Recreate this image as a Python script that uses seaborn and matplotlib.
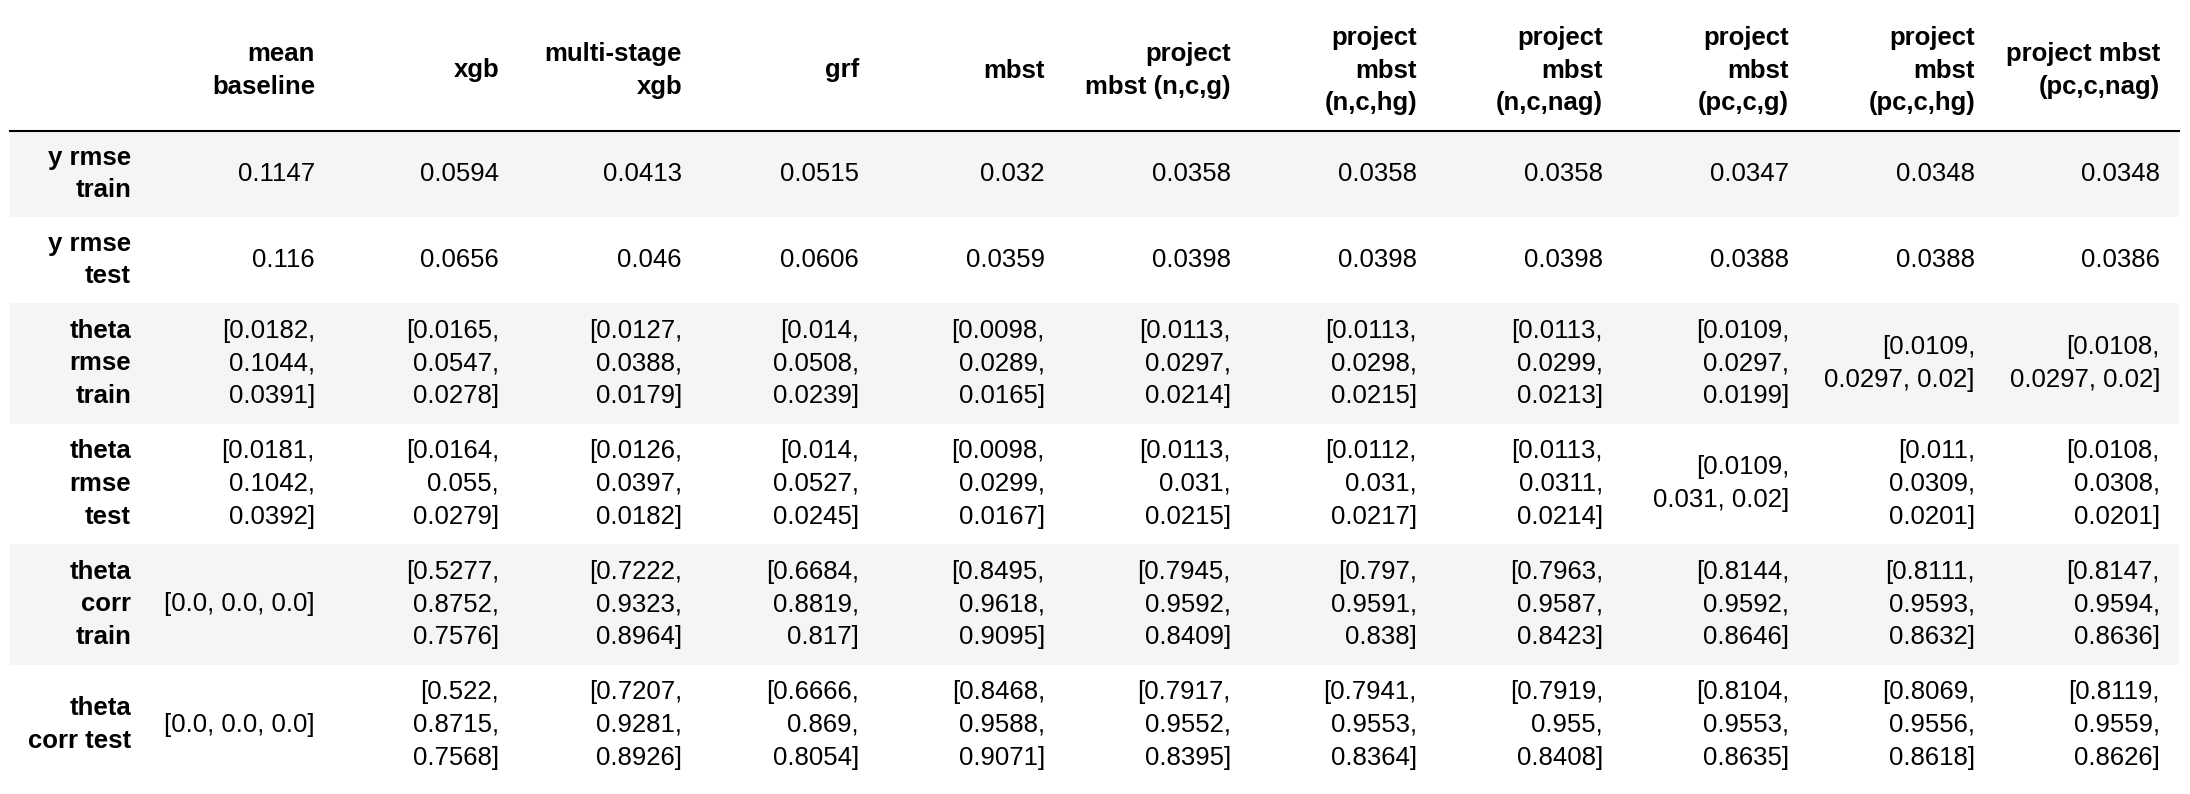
import numpy as np
import matplotlib
matplotlib.use("Agg")
import matplotlib.pyplot as plt
from matplotlib.colors import ListedColormap
import seaborn as sns

OUT_PATH = "out.png"

# column headers (line breaks as rendered in the notebook)
columns = [
    "mean\nbaseline", "xgb", "multi-stage\nxgb", "grf", "mbst",
    "project\nmbst (n,c,g)", "project\nmbst\n(n,c,hg)", "project\nmbst\n(n,c,nag)",
    "project\nmbst\n(pc,c,g)", "project\nmbst\n(pc,c,hg)", "project mbst\n(pc,c,nag)",
]
index = [
    "y rmse\ntrain", "y rmse\ntest", "theta\nrmse\ntrain",
    "theta\nrmse\ntest", "theta\ncorr\ntrain", "theta\ncorr test",
]

y_rmse_train = [0.1147, 0.0594, 0.0413, 0.0515, 0.032, 0.0358, 0.0358, 0.0358, 0.0347, 0.0348, 0.0348]
y_rmse_test = [0.116, 0.0656, 0.046, 0.0606, 0.0359, 0.0398, 0.0398, 0.0398, 0.0388, 0.0388, 0.0386]
theta_rmse_train = [
    [0.0182, 0.1044, 0.0391], [0.0165, 0.0547, 0.0278], [0.0127, 0.0388, 0.0179],
    [0.014, 0.0508, 0.0239], [0.0098, 0.0289, 0.0165], [0.0113, 0.0297, 0.0214],
    [0.0113, 0.0298, 0.0215], [0.0113, 0.0299, 0.0213], [0.0109, 0.0297, 0.0199],
    [0.0109, 0.0297, 0.02], [0.0108, 0.0297, 0.02],
]
theta_rmse_test = [
    [0.0181, 0.1042, 0.0392], [0.0164, 0.055, 0.0279], [0.0126, 0.0397, 0.0182],
    [0.014, 0.0527, 0.0245], [0.0098, 0.0299, 0.0167], [0.0113, 0.031, 0.0215],
    [0.0112, 0.031, 0.0217], [0.0113, 0.0311, 0.0214], [0.0109, 0.031, 0.02],
    [0.011, 0.0309, 0.0201], [0.0108, 0.0308, 0.0201],
]
theta_corr_train = [
    [0.0, 0.0, 0.0], [0.5277, 0.8752, 0.7576], [0.7222, 0.9323, 0.8964],
    [0.6684, 0.8819, 0.817], [0.8495, 0.9618, 0.9095], [0.7945, 0.9592, 0.8409],
    [0.797, 0.9591, 0.838], [0.7963, 0.9587, 0.8423], [0.8144, 0.9592, 0.8646],
    [0.8111, 0.9593, 0.8632], [0.8147, 0.9594, 0.8636],
]
theta_corr_test = [
    [0.0, 0.0, 0.0], [0.522, 0.8715, 0.7568], [0.7207, 0.9281, 0.8926],
    [0.6666, 0.869, 0.8054], [0.8468, 0.9588, 0.9071], [0.7917, 0.9552, 0.8395],
    [0.7941, 0.9553, 0.8364], [0.7919, 0.955, 0.8408], [0.8104, 0.9553, 0.8635],
    [0.8069, 0.9556, 0.8618], [0.8119, 0.9559, 0.8626],
]

rows = [y_rmse_train, y_rmse_test, theta_rmse_train,
        theta_rmse_test, theta_corr_train, theta_corr_test]

# layout: table spans px 10..2179 horizontally, 131..785 vertically
TABLE_L, TABLE_R, TABLE_T, TABLE_B = 10, 2179, 131, 785
N_X = 47
ROW_H = [5, 5, 7, 7, 7, 7]          # grid units per row (2-line vs 3-line rows)
# right edge of text in each column (index first), in px
TEXT_RIGHT_PX = [131, 315, 499, 682, 859, 1045, 1231, 1417, 1603, 1789, 1975, 2160]
HEADER_Y_PX = 70.5
FS = 18.5
FONT = ["Liberation Sans", "DejaVu Sans"]
LINESP = 1.46
MAX_EM = 6.1


def px_to_x(px):
    return (px - TABLE_L) * N_X / (TABLE_R - TABLE_L)


def px_to_y(px):
    return (px - TABLE_T) * sum(ROW_H) / (TABLE_B - TABLE_T)


def text_em(s):
    # rough Arial advance widths
    return sum(0.556 if c.isdigit() else 0.278 for c in s)


def fmt_cell(v):
    if not isinstance(v, list):
        return str(v)
    tokens = [str(x) for x in v]
    tokens = ["[" + tokens[0]] + tokens[1:]
    tokens = [t + "," for t in tokens[:-1]] + [tokens[-1] + "]"]
    lines, cur = [], ""
    for t in tokens:
        trial = t if not cur else cur + " " + t
        if cur and text_em(trial) > MAX_EM:
            lines.append(cur)
            cur = t
        else:
            cur = trial
    lines.append(cur)
    return "\n".join(lines)


def main():
    n_y = sum(ROW_H)
    band = np.zeros((n_y, N_X))
    y0 = 0
    for i, h in enumerate(ROW_H):
        band[y0:y0 + h, :] = 1 if i % 2 == 0 else 0
        y0 += h

    fig = plt.figure(figsize=(21.9, 7.94), dpi=100)
    ax = fig.add_axes([TABLE_L / 2190, 1 - TABLE_B / 794,
                       (TABLE_R - TABLE_L) / 2190, (TABLE_B - TABLE_T) / 794])
    sns.heatmap(band, cmap=ListedColormap(["white", "#f5f5f5"]), vmin=0, vmax=1,
                cbar=False, xticklabels=False, yticklabels=False, ax=ax)
    ax.tick_params(left=False, bottom=False)

    ax.axhline(0, color="black", lw=1.5, clip_on=False)

    txt = dict(ha="right", va="center", multialignment="right",
               fontsize=FS, family=FONT, linespacing=LINESP, clip_on=False)

    xs = [px_to_x(p) for p in TEXT_RIGHT_PX]

    # header
    for j, col in enumerate(columns):
        ax.text(xs[j + 1], px_to_y(HEADER_Y_PX), col, fontweight="bold", **txt)

    # body
    y0 = 0
    for i, h in enumerate(ROW_H):
        yc = y0 + h / 2
        ax.text(xs[0], yc, index[i], fontweight="bold", **txt)
        for j, v in enumerate(rows[i]):
            ax.text(xs[j + 1], yc, fmt_cell(v), color="black", **txt)
        y0 += h

    fig.savefig(OUT_PATH, dpi=100, facecolor="white")
    plt.close(fig)


if __name__ == "__main__":
    main()
